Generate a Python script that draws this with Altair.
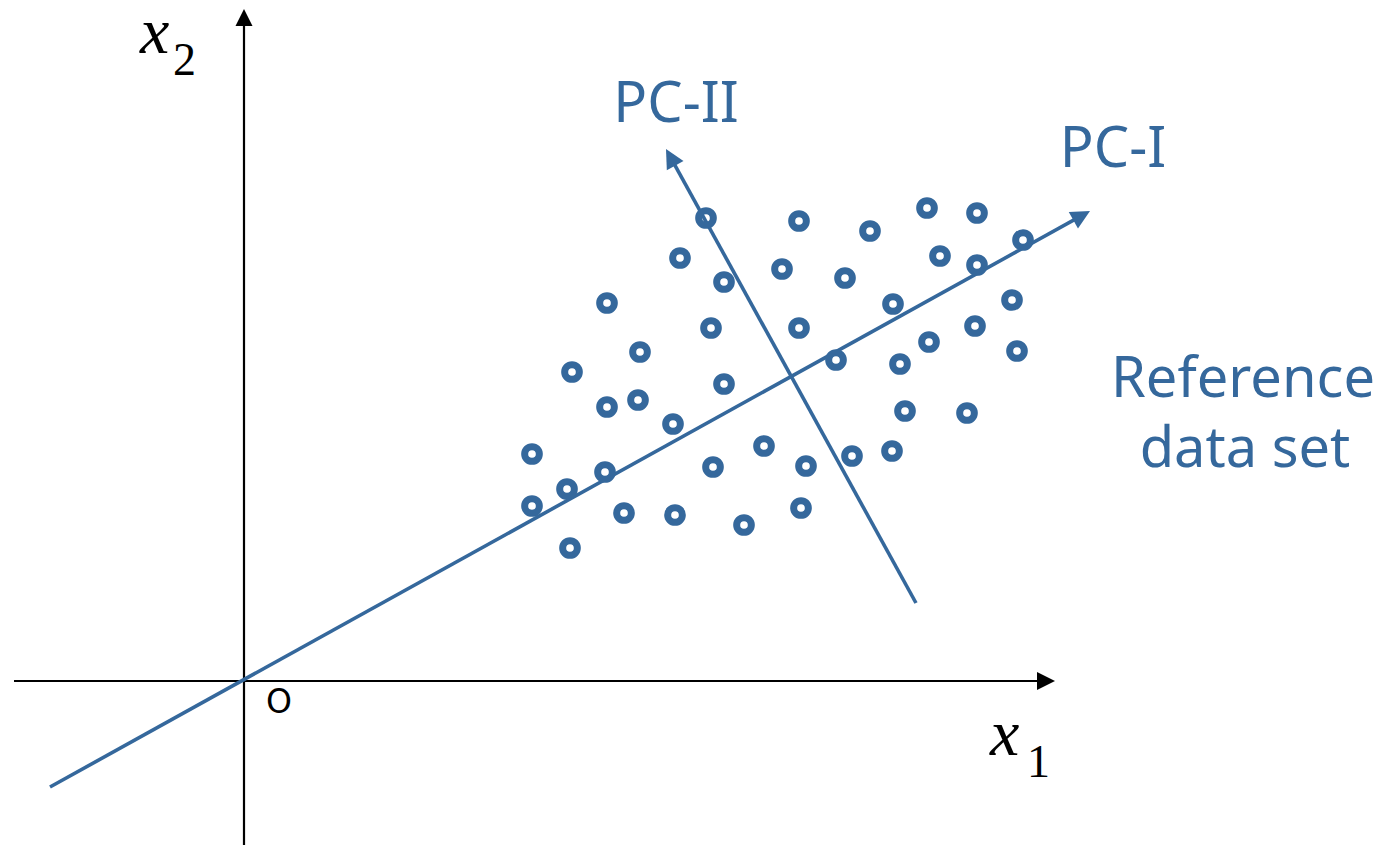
import math

import altair as alt
import pandas as pd

BLUE = "#35689c"
BLACK = "#000000"

# Sample cloud in the (x1, x2) plane
pts_x1 = [4.62, 5.55, 6.26, 6.83, 7.33, 7.79, 4.36, 5.38, 6.01, 6.96, 7.33,
          4.80, 3.63, 6.49, 7.68, 4.67, 5.55, 7.31, 3.96, 6.85, 7.73, 5.92,
          6.56, 3.28, 4.80, 3.63, 3.94, 6.61, 7.23, 4.29, 2.88, 5.20, 6.08,
          6.48, 4.69, 5.62, 3.61, 3.23, 2.88, 3.80, 4.31, 5.00, 5.57, 3.26]
pts_x2 = [4.63, 4.60, 4.50, 4.73, 4.68, 4.41, 4.23, 4.12, 4.03, 4.25, 4.16,
          3.99, 3.78, 3.77, 3.81, 3.53, 3.53, 3.55, 3.29, 3.39, 3.30, 3.21,
          3.17, 3.09, 2.97, 2.74, 2.81, 2.70, 2.68, 2.57, 2.27, 2.35, 2.25,
          2.30, 2.14, 2.15, 2.09, 1.92, 1.75, 1.68, 1.66, 1.56, 1.73, 1.33]

# Arrows: name, start point, tip point, colour, line width, head length (px)
arrow_names = ["x1 axis", "x2 axis", "PC-I", "PC-II"]
arrow_start = [(-2.30, 0.0), (0.0, -1.64), (-1.94, -1.06), (6.72, 0.78)]
arrow_tip = [(8.11, 0.0), (0.0, 6.72), (8.46, 4.70), (4.22, 5.32)]
arrow_color = [BLACK, BLACK, BLUE, BLUE]
arrow_width = [2.2, 2.2, 3.6, 3.6]
arrow_head = [18, 17, 19, 19]

# Text labels
blue_labels = ["PC-II", "PC-I", "Reference", "data set"]
blue_label_x = [4.32, 8.69, 9.99, 10.01]
blue_label_y = [5.59, 5.14, 2.84, 2.14]

origin_label = ["O"]
origin_label_x = [0.35]
origin_label_y = [-0.32]

var_letters = ["x", "x"]
var_letter_x = [7.46, -1.04]
var_letter_y = [-0.74, 6.28]
var_subs = ["1", "2"]
var_sub_x = [7.83, -0.71]
var_sub_y = [-0.96, 6.06]

PX_PER_UNIT = 100.0
HEAD_PATH = "M0,0L-0.5,1L0.5,1Z"

seg_rows, head_rows = [], []
for name, (sx, sy), (tx, ty), col, w, hl in zip(
        arrow_names, arrow_start, arrow_tip, arrow_color, arrow_width, arrow_head):
    dx, dy = tx - sx, ty - sy
    length = math.hypot(dx, dy)
    ux, uy = dx / length, dy / length
    back = 0.5 * hl / PX_PER_UNIT  # shaft stops inside the arrow head
    seg_rows.append({"name": name, "x": sx, "y": sy,
                     "x2": tx - ux * back, "y2": ty - uy * back,
                     "color": col, "w": w})
    head_rows.append({"name": name, "x": tx, "y": ty,
                      "angle": math.degrees(math.atan2(dx, dy)) % 360,
                      "size": (2 * hl) ** 2, "color": col})

seg_df = pd.DataFrame(seg_rows)
head_df = pd.DataFrame(head_rows)
pts_df = pd.DataFrame({"x1": pts_x1, "x2": pts_x2})

X_SCALE = alt.Scale(domain=[-2.44, 11.37], nice=False, zero=False)
Y_SCALE = alt.Scale(domain=[-1.64, 6.81], nice=False, zero=False)


def xy(xf, yf):
    return dict(x=alt.X(f"{xf}:Q", scale=X_SCALE, axis=None),
                y=alt.Y(f"{yf}:Q", scale=Y_SCALE, axis=None))


shafts = alt.Chart(seg_df).mark_rule(strokeCap="butt").encode(
    **xy("x", "y"),
    x2="x2:Q", y2="y2:Q",
    color=alt.Color("color:N", scale=None),
    strokeWidth=alt.StrokeWidth("w:Q", scale=None),
)

heads = alt.Chart(head_df).mark_point(
    shape=HEAD_PATH, filled=True, opacity=1, strokeWidth=0
).encode(
    **xy("x", "y"),
    angle=alt.Angle("angle:Q", scale=None),
    size=alt.Size("size:Q", scale=None),
    color=alt.Color("color:N", scale=None),
)

points = alt.Chart(pts_df).mark_point(
    shape="circle", filled=False, size=215, strokeWidth=7,
    color=BLUE, opacity=1
).encode(**xy("x1", "x2"))

blue_text = alt.Chart(pd.DataFrame({
    "t": blue_labels, "x": blue_label_x, "y": blue_label_y
})).mark_text(
    font="Noto Sans", fontSize=56, color=BLUE,
    align="center", baseline="alphabetic"
).encode(**xy("x", "y"), text="t:N")

origin_text = alt.Chart(pd.DataFrame({
    "t": origin_label, "x": origin_label_x, "y": origin_label_y
})).mark_text(
    font="DejaVu Sans", fontSize=33, color=BLACK,
    align="center", baseline="alphabetic"
).encode(**xy("x", "y"), text="t:N")

var_text = alt.Chart(pd.DataFrame({
    "t": var_letters, "x": var_letter_x, "y": var_letter_y
})).mark_text(
    font="Liberation Serif", fontStyle="italic", fontSize=66, color=BLACK,
    align="left", baseline="alphabetic"
).encode(**xy("x", "y"), text="t:N")

sub_text = alt.Chart(pd.DataFrame({
    "t": var_subs, "x": var_sub_x, "y": var_sub_y
})).mark_text(
    font="Liberation Serif", fontSize=46, color=BLACK,
    align="left", baseline="alphabetic"
).encode(**xy("x", "y"), text="t:N")

chart = alt.layer(
    shafts, heads, points, blue_text, origin_text, var_text, sub_text
).properties(
    width=1381, height=845, padding=0, autosize="none", background="white"
).configure_view(stroke=None)

chart.save("out.html", embed_options={"renderer": "svg", "actions": False})
